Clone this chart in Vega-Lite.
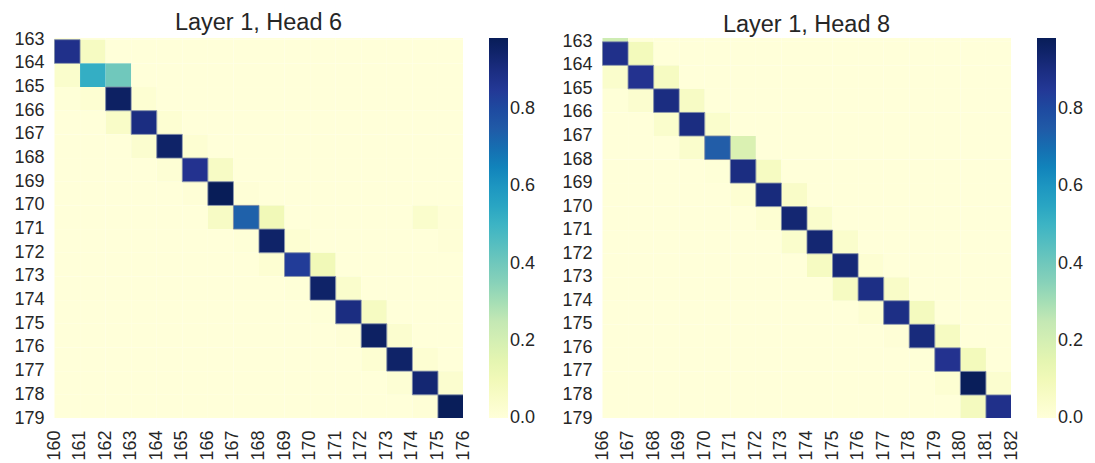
{
  "$schema": "https://vega.github.io/schema/vega-lite/v6.json",
  "background": "white",
  "padding": {"left": 13, "top": 10, "right": 0, "bottom": 0},
  "spacing": 25,
  "config": {
    "font": "Liberation Sans",
    "view": {"stroke": null},
    "axis": {"ticks": false, "domain": false, "grid": false, "labelFontSize": 18, "labelColor": "#262626", "labelFont": "Liberation Sans"},
    "title": {"fontSize": 23.5, "fontWeight": "normal", "color": "#262626", "offset": -4, "font": "Liberation Sans"},
    "legend": {"gradientLength": 380, "gradientThickness": 19, "offset": 26, "padding": 0, "labelFontSize": 18, "labelColor": "#262626", "labelOffset": 11, "gradientStrokeWidth": 0, "labelFont": "Liberation Sans"}
  },
  "datasets": {
    "h6": [
      {"x":160,"y":162,"v":0},{"x":161,"y":162,"v":0},{"x":162,"y":162,"v":0},{"x":163,"y":162,"v":0},{"x":164,"y":162,"v":0},{"x":165,"y":162,"v":0},{"x":166,"y":162,"v":0},{"x":167,"y":162,"v":0},{"x":168,"y":162,"v":0},{"x":169,"y":162,"v":0},{"x":170,"y":162,"v":0},{"x":171,"y":162,"v":0},{"x":172,"y":162,"v":0},{"x":173,"y":162,"v":0},{"x":174,"y":162,"v":0},{"x":175,"y":162,"v":0},
      {"x":160,"y":163,"v":0.88},{"x":161,"y":163,"v":0.07},{"x":162,"y":163,"v":0},{"x":163,"y":163,"v":0},{"x":164,"y":163,"v":0},{"x":165,"y":163,"v":0},{"x":166,"y":163,"v":0},{"x":167,"y":163,"v":0},{"x":168,"y":163,"v":0},{"x":169,"y":163,"v":0},{"x":170,"y":163,"v":0},{"x":171,"y":163,"v":0},{"x":172,"y":163,"v":0},{"x":173,"y":163,"v":0},{"x":174,"y":163,"v":0},{"x":175,"y":163,"v":0},
      {"x":160,"y":164,"v":0.04},{"x":161,"y":164,"v":0.52},{"x":162,"y":164,"v":0.40},{"x":163,"y":164,"v":0},{"x":164,"y":164,"v":0},{"x":165,"y":164,"v":0},{"x":166,"y":164,"v":0},{"x":167,"y":164,"v":0},{"x":168,"y":164,"v":0},{"x":169,"y":164,"v":0},{"x":170,"y":164,"v":0},{"x":171,"y":164,"v":0},{"x":172,"y":164,"v":0},{"x":173,"y":164,"v":0},{"x":174,"y":164,"v":0},{"x":175,"y":164,"v":0},
      {"x":160,"y":165,"v":0.005},{"x":161,"y":165,"v":0.02},{"x":162,"y":165,"v":0.96},{"x":163,"y":165,"v":0.02},{"x":164,"y":165,"v":0},{"x":165,"y":165,"v":0},{"x":166,"y":165,"v":0},{"x":167,"y":165,"v":0},{"x":168,"y":165,"v":0},{"x":169,"y":165,"v":0},{"x":170,"y":165,"v":0},{"x":171,"y":165,"v":0},{"x":172,"y":165,"v":0},{"x":173,"y":165,"v":0},{"x":174,"y":165,"v":0},{"x":175,"y":165,"v":0},
      {"x":160,"y":166,"v":0},{"x":161,"y":166,"v":0},{"x":162,"y":166,"v":0.05},{"x":163,"y":166,"v":0.90},{"x":164,"y":166,"v":0.02},{"x":165,"y":166,"v":0},{"x":166,"y":166,"v":0},{"x":167,"y":166,"v":0},{"x":168,"y":166,"v":0},{"x":169,"y":166,"v":0},{"x":170,"y":166,"v":0},{"x":171,"y":166,"v":0},{"x":172,"y":166,"v":0},{"x":173,"y":166,"v":0},{"x":174,"y":166,"v":0},{"x":175,"y":166,"v":0},
      {"x":160,"y":167,"v":0},{"x":161,"y":167,"v":0},{"x":162,"y":167,"v":0},{"x":163,"y":167,"v":0.03},{"x":164,"y":167,"v":0.95},{"x":165,"y":167,"v":0.02},{"x":166,"y":167,"v":0},{"x":167,"y":167,"v":0},{"x":168,"y":167,"v":0},{"x":169,"y":167,"v":0},{"x":170,"y":167,"v":0},{"x":171,"y":167,"v":0},{"x":172,"y":167,"v":0},{"x":173,"y":167,"v":0},{"x":174,"y":167,"v":0},{"x":175,"y":167,"v":0},
      {"x":160,"y":168,"v":0},{"x":161,"y":168,"v":0},{"x":162,"y":168,"v":0},{"x":163,"y":168,"v":0},{"x":164,"y":168,"v":0.015},{"x":165,"y":168,"v":0.87},{"x":166,"y":168,"v":0.06},{"x":167,"y":168,"v":0},{"x":168,"y":168,"v":0},{"x":169,"y":168,"v":0},{"x":170,"y":168,"v":0},{"x":171,"y":168,"v":0},{"x":172,"y":168,"v":0},{"x":173,"y":168,"v":0},{"x":174,"y":168,"v":0},{"x":175,"y":168,"v":0},
      {"x":160,"y":169,"v":0},{"x":161,"y":169,"v":0},{"x":162,"y":169,"v":0},{"x":163,"y":169,"v":0},{"x":164,"y":169,"v":0},{"x":165,"y":169,"v":0.01},{"x":166,"y":169,"v":0.984},{"x":167,"y":169,"v":0.01},{"x":168,"y":169,"v":0},{"x":169,"y":169,"v":0},{"x":170,"y":169,"v":0},{"x":171,"y":169,"v":0},{"x":172,"y":169,"v":0},{"x":173,"y":169,"v":0},{"x":174,"y":169,"v":0},{"x":175,"y":169,"v":0},
      {"x":160,"y":170,"v":0},{"x":161,"y":170,"v":0},{"x":162,"y":170,"v":0},{"x":163,"y":170,"v":0},{"x":164,"y":170,"v":0},{"x":165,"y":170,"v":0},{"x":166,"y":170,"v":0.06},{"x":167,"y":170,"v":0.73},{"x":168,"y":170,"v":0.10},{"x":169,"y":170,"v":0},{"x":170,"y":170,"v":0},{"x":171,"y":170,"v":0},{"x":172,"y":170,"v":0},{"x":173,"y":170,"v":0},{"x":174,"y":170,"v":0.04},{"x":175,"y":170,"v":0.01},
      {"x":160,"y":171,"v":0},{"x":161,"y":171,"v":0},{"x":162,"y":171,"v":0},{"x":163,"y":171,"v":0},{"x":164,"y":171,"v":0},{"x":165,"y":171,"v":0},{"x":166,"y":171,"v":0},{"x":167,"y":171,"v":0.005},{"x":168,"y":171,"v":0.95},{"x":169,"y":171,"v":0.02},{"x":170,"y":171,"v":0},{"x":171,"y":171,"v":0},{"x":172,"y":171,"v":0},{"x":173,"y":171,"v":0},{"x":174,"y":171,"v":0},{"x":175,"y":171,"v":0.01},
      {"x":160,"y":172,"v":0},{"x":161,"y":172,"v":0},{"x":162,"y":172,"v":0},{"x":163,"y":172,"v":0},{"x":164,"y":172,"v":0},{"x":165,"y":172,"v":0},{"x":166,"y":172,"v":0},{"x":167,"y":172,"v":0},{"x":168,"y":172,"v":0.02},{"x":169,"y":172,"v":0.84},{"x":170,"y":172,"v":0.10},{"x":171,"y":172,"v":0},{"x":172,"y":172,"v":0},{"x":173,"y":172,"v":0},{"x":174,"y":172,"v":0},{"x":175,"y":172,"v":0},
      {"x":160,"y":173,"v":0},{"x":161,"y":173,"v":0},{"x":162,"y":173,"v":0},{"x":163,"y":173,"v":0},{"x":164,"y":173,"v":0},{"x":165,"y":173,"v":0},{"x":166,"y":173,"v":0},{"x":167,"y":173,"v":0},{"x":168,"y":173,"v":0},{"x":169,"y":173,"v":0.005},{"x":170,"y":173,"v":0.95},{"x":171,"y":173,"v":0.04},{"x":172,"y":173,"v":0},{"x":173,"y":173,"v":0},{"x":174,"y":173,"v":0},{"x":175,"y":173,"v":0},
      {"x":160,"y":174,"v":0},{"x":161,"y":174,"v":0},{"x":162,"y":174,"v":0},{"x":163,"y":174,"v":0},{"x":164,"y":174,"v":0},{"x":165,"y":174,"v":0},{"x":166,"y":174,"v":0},{"x":167,"y":174,"v":0},{"x":168,"y":174,"v":0},{"x":169,"y":174,"v":0},{"x":170,"y":174,"v":0.005},{"x":171,"y":174,"v":0.90},{"x":172,"y":174,"v":0.07},{"x":173,"y":174,"v":0},{"x":174,"y":174,"v":0},{"x":175,"y":174,"v":0},
      {"x":160,"y":175,"v":0},{"x":161,"y":175,"v":0},{"x":162,"y":175,"v":0},{"x":163,"y":175,"v":0},{"x":164,"y":175,"v":0},{"x":165,"y":175,"v":0},{"x":166,"y":175,"v":0},{"x":167,"y":175,"v":0},{"x":168,"y":175,"v":0},{"x":169,"y":175,"v":0},{"x":170,"y":175,"v":0},{"x":171,"y":175,"v":0.01},{"x":172,"y":175,"v":0.96},{"x":173,"y":175,"v":0.03},{"x":174,"y":175,"v":0},{"x":175,"y":175,"v":0},
      {"x":160,"y":176,"v":0},{"x":161,"y":176,"v":0},{"x":162,"y":176,"v":0},{"x":163,"y":176,"v":0},{"x":164,"y":176,"v":0},{"x":165,"y":176,"v":0},{"x":166,"y":176,"v":0},{"x":167,"y":176,"v":0},{"x":168,"y":176,"v":0},{"x":169,"y":176,"v":0},{"x":170,"y":176,"v":0},{"x":171,"y":176,"v":0},{"x":172,"y":176,"v":0.02},{"x":173,"y":176,"v":0.95},{"x":174,"y":176,"v":0.02},{"x":175,"y":176,"v":0},
      {"x":160,"y":177,"v":0},{"x":161,"y":177,"v":0},{"x":162,"y":177,"v":0},{"x":163,"y":177,"v":0},{"x":164,"y":177,"v":0},{"x":165,"y":177,"v":0},{"x":166,"y":177,"v":0},{"x":167,"y":177,"v":0},{"x":168,"y":177,"v":0},{"x":169,"y":177,"v":0},{"x":170,"y":177,"v":0},{"x":171,"y":177,"v":0},{"x":172,"y":177,"v":0},{"x":173,"y":177,"v":0.015},{"x":174,"y":177,"v":0.93},{"x":175,"y":177,"v":0.03},
      {"x":160,"y":178,"v":0},{"x":161,"y":178,"v":0},{"x":162,"y":178,"v":0},{"x":163,"y":178,"v":0},{"x":164,"y":178,"v":0},{"x":165,"y":178,"v":0},{"x":166,"y":178,"v":0},{"x":167,"y":178,"v":0},{"x":168,"y":178,"v":0},{"x":169,"y":178,"v":0},{"x":170,"y":178,"v":0},{"x":171,"y":178,"v":0},{"x":172,"y":178,"v":0},{"x":173,"y":178,"v":0},{"x":174,"y":178,"v":0.01},{"x":175,"y":178,"v":0.98}
    ],
    "h8": [
      {"x":166,"y":162,"v":0.22},{"x":167,"y":162,"v":0},{"x":168,"y":162,"v":0},{"x":169,"y":162,"v":0},{"x":170,"y":162,"v":0},{"x":171,"y":162,"v":0},{"x":172,"y":162,"v":0},{"x":173,"y":162,"v":0},{"x":174,"y":162,"v":0},{"x":175,"y":162,"v":0},{"x":176,"y":162,"v":0},{"x":177,"y":162,"v":0},{"x":178,"y":162,"v":0},{"x":179,"y":162,"v":0},{"x":180,"y":162,"v":0},{"x":181,"y":162,"v":0},
      {"x":166,"y":163,"v":0.88},{"x":167,"y":163,"v":0.09},{"x":168,"y":163,"v":0},{"x":169,"y":163,"v":0},{"x":170,"y":163,"v":0},{"x":171,"y":163,"v":0},{"x":172,"y":163,"v":0},{"x":173,"y":163,"v":0},{"x":174,"y":163,"v":0},{"x":175,"y":163,"v":0},{"x":176,"y":163,"v":0},{"x":177,"y":163,"v":0},{"x":178,"y":163,"v":0},{"x":179,"y":163,"v":0},{"x":180,"y":163,"v":0},{"x":181,"y":163,"v":0},
      {"x":166,"y":164,"v":0.04},{"x":167,"y":164,"v":0.87},{"x":168,"y":164,"v":0.07},{"x":169,"y":164,"v":0},{"x":170,"y":164,"v":0},{"x":171,"y":164,"v":0},{"x":172,"y":164,"v":0},{"x":173,"y":164,"v":0},{"x":174,"y":164,"v":0},{"x":175,"y":164,"v":0},{"x":176,"y":164,"v":0},{"x":177,"y":164,"v":0},{"x":178,"y":164,"v":0},{"x":179,"y":164,"v":0},{"x":180,"y":164,"v":0},{"x":181,"y":164,"v":0},
      {"x":166,"y":165,"v":0.005},{"x":167,"y":165,"v":0.03},{"x":168,"y":165,"v":0.90},{"x":169,"y":165,"v":0.06},{"x":170,"y":165,"v":0},{"x":171,"y":165,"v":0},{"x":172,"y":165,"v":0},{"x":173,"y":165,"v":0},{"x":174,"y":165,"v":0},{"x":175,"y":165,"v":0},{"x":176,"y":165,"v":0},{"x":177,"y":165,"v":0},{"x":178,"y":165,"v":0},{"x":179,"y":165,"v":0},{"x":180,"y":165,"v":0},{"x":181,"y":165,"v":0},
      {"x":166,"y":166,"v":0},{"x":167,"y":166,"v":0},{"x":168,"y":166,"v":0.04},{"x":169,"y":166,"v":0.90},{"x":170,"y":166,"v":0.04},{"x":171,"y":166,"v":0},{"x":172,"y":166,"v":0},{"x":173,"y":166,"v":0},{"x":174,"y":166,"v":0},{"x":175,"y":166,"v":0},{"x":176,"y":166,"v":0},{"x":177,"y":166,"v":0},{"x":178,"y":166,"v":0},{"x":179,"y":166,"v":0},{"x":180,"y":166,"v":0},{"x":181,"y":166,"v":0},
      {"x":166,"y":167,"v":0},{"x":167,"y":167,"v":0},{"x":168,"y":167,"v":0},{"x":169,"y":167,"v":0.04},{"x":170,"y":167,"v":0.74},{"x":171,"y":167,"v":0.18},{"x":172,"y":167,"v":0},{"x":173,"y":167,"v":0},{"x":174,"y":167,"v":0},{"x":175,"y":167,"v":0},{"x":176,"y":167,"v":0},{"x":177,"y":167,"v":0},{"x":178,"y":167,"v":0},{"x":179,"y":167,"v":0},{"x":180,"y":167,"v":0},{"x":181,"y":167,"v":0},
      {"x":166,"y":168,"v":0},{"x":167,"y":168,"v":0},{"x":168,"y":168,"v":0},{"x":169,"y":168,"v":0},{"x":170,"y":168,"v":0.005},{"x":171,"y":168,"v":0.90},{"x":172,"y":168,"v":0.07},{"x":173,"y":168,"v":0},{"x":174,"y":168,"v":0},{"x":175,"y":168,"v":0},{"x":176,"y":168,"v":0},{"x":177,"y":168,"v":0},{"x":178,"y":168,"v":0},{"x":179,"y":168,"v":0},{"x":180,"y":168,"v":0},{"x":181,"y":168,"v":0},
      {"x":166,"y":169,"v":0},{"x":167,"y":169,"v":0},{"x":168,"y":169,"v":0},{"x":169,"y":169,"v":0},{"x":170,"y":169,"v":0},{"x":171,"y":169,"v":0.02},{"x":172,"y":169,"v":0.91},{"x":173,"y":169,"v":0.05},{"x":174,"y":169,"v":0},{"x":175,"y":169,"v":0},{"x":176,"y":169,"v":0},{"x":177,"y":169,"v":0},{"x":178,"y":169,"v":0},{"x":179,"y":169,"v":0},{"x":180,"y":169,"v":0},{"x":181,"y":169,"v":0},
      {"x":166,"y":170,"v":0},{"x":167,"y":170,"v":0},{"x":168,"y":170,"v":0},{"x":169,"y":170,"v":0},{"x":170,"y":170,"v":0},{"x":171,"y":170,"v":0},{"x":172,"y":170,"v":0.02},{"x":173,"y":170,"v":0.93},{"x":174,"y":170,"v":0.04},{"x":175,"y":170,"v":0},{"x":176,"y":170,"v":0},{"x":177,"y":170,"v":0},{"x":178,"y":170,"v":0},{"x":179,"y":170,"v":0},{"x":180,"y":170,"v":0},{"x":181,"y":170,"v":0},
      {"x":166,"y":171,"v":0},{"x":167,"y":171,"v":0},{"x":168,"y":171,"v":0},{"x":169,"y":171,"v":0},{"x":170,"y":171,"v":0},{"x":171,"y":171,"v":0},{"x":172,"y":171,"v":0},{"x":173,"y":171,"v":0.04},{"x":174,"y":171,"v":0.93},{"x":175,"y":171,"v":0.04},{"x":176,"y":171,"v":0},{"x":177,"y":171,"v":0},{"x":178,"y":171,"v":0},{"x":179,"y":171,"v":0},{"x":180,"y":171,"v":0},{"x":181,"y":171,"v":0},
      {"x":166,"y":172,"v":0},{"x":167,"y":172,"v":0},{"x":168,"y":172,"v":0},{"x":169,"y":172,"v":0},{"x":170,"y":172,"v":0},{"x":171,"y":172,"v":0},{"x":172,"y":172,"v":0},{"x":173,"y":172,"v":0},{"x":174,"y":172,"v":0.07},{"x":175,"y":172,"v":0.92},{"x":176,"y":172,"v":0.02},{"x":177,"y":172,"v":0},{"x":178,"y":172,"v":0},{"x":179,"y":172,"v":0},{"x":180,"y":172,"v":0},{"x":181,"y":172,"v":0},
      {"x":166,"y":173,"v":0},{"x":167,"y":173,"v":0},{"x":168,"y":173,"v":0},{"x":169,"y":173,"v":0},{"x":170,"y":173,"v":0},{"x":171,"y":173,"v":0},{"x":172,"y":173,"v":0},{"x":173,"y":173,"v":0},{"x":174,"y":173,"v":0},{"x":175,"y":173,"v":0.07},{"x":176,"y":173,"v":0.89},{"x":177,"y":173,"v":0.05},{"x":178,"y":173,"v":0},{"x":179,"y":173,"v":0},{"x":180,"y":173,"v":0},{"x":181,"y":173,"v":0},
      {"x":166,"y":174,"v":0},{"x":167,"y":174,"v":0},{"x":168,"y":174,"v":0},{"x":169,"y":174,"v":0},{"x":170,"y":174,"v":0},{"x":171,"y":174,"v":0},{"x":172,"y":174,"v":0},{"x":173,"y":174,"v":0},{"x":174,"y":174,"v":0},{"x":175,"y":174,"v":0},{"x":176,"y":174,"v":0.02},{"x":177,"y":174,"v":0.89},{"x":178,"y":174,"v":0.08},{"x":179,"y":174,"v":0},{"x":180,"y":174,"v":0},{"x":181,"y":174,"v":0},
      {"x":166,"y":175,"v":0},{"x":167,"y":175,"v":0},{"x":168,"y":175,"v":0},{"x":169,"y":175,"v":0},{"x":170,"y":175,"v":0},{"x":171,"y":175,"v":0},{"x":172,"y":175,"v":0},{"x":173,"y":175,"v":0},{"x":174,"y":175,"v":0},{"x":175,"y":175,"v":0},{"x":176,"y":175,"v":0},{"x":177,"y":175,"v":0.01},{"x":178,"y":175,"v":0.91},{"x":179,"y":175,"v":0.07},{"x":180,"y":175,"v":0},{"x":181,"y":175,"v":0},
      {"x":166,"y":176,"v":0},{"x":167,"y":176,"v":0},{"x":168,"y":176,"v":0},{"x":169,"y":176,"v":0},{"x":170,"y":176,"v":0},{"x":171,"y":176,"v":0},{"x":172,"y":176,"v":0},{"x":173,"y":176,"v":0},{"x":174,"y":176,"v":0},{"x":175,"y":176,"v":0},{"x":176,"y":176,"v":0},{"x":177,"y":176,"v":0},{"x":178,"y":176,"v":0.005},{"x":179,"y":176,"v":0.87},{"x":180,"y":176,"v":0.09},{"x":181,"y":176,"v":0},
      {"x":166,"y":177,"v":0},{"x":167,"y":177,"v":0},{"x":168,"y":177,"v":0},{"x":169,"y":177,"v":0},{"x":170,"y":177,"v":0},{"x":171,"y":177,"v":0},{"x":172,"y":177,"v":0},{"x":173,"y":177,"v":0},{"x":174,"y":177,"v":0},{"x":175,"y":177,"v":0},{"x":176,"y":177,"v":0},{"x":177,"y":177,"v":0},{"x":178,"y":177,"v":0},{"x":179,"y":177,"v":0.02},{"x":180,"y":177,"v":0.98},{"x":181,"y":177,"v":0.03},
      {"x":166,"y":178,"v":0},{"x":167,"y":178,"v":0},{"x":168,"y":178,"v":0},{"x":169,"y":178,"v":0},{"x":170,"y":178,"v":0},{"x":171,"y":178,"v":0},{"x":172,"y":178,"v":0},{"x":173,"y":178,"v":0},{"x":174,"y":178,"v":0},{"x":175,"y":178,"v":0},{"x":176,"y":178,"v":0},{"x":177,"y":178,"v":0},{"x":178,"y":178,"v":0},{"x":179,"y":178,"v":0},{"x":180,"y":178,"v":0.08},{"x":181,"y":178,"v":0.88}
    ]
  },
  "hconcat": [
    {
      "title": "Layer 1, Head 6",
      "width": 409,
      "height": 380,
      "data": {"name": "h6"},
      "encoding": {
        "x": {"field": "x", "type": "quantitative", "bin": {"binned": true, "step": 1}, "title": null,
              "scale": {"domain": [160, 176], "nice": false, "zero": false},
              "axis": {"values": [160,161,162,163,164,165,166,167,168,169,170,171,172,173,174,175,176], "labelAngle": -90, "labelPadding": 12, "format": "d", "labelFlush": false, "labelOverlap": false}},
        "y": {"field": "y", "type": "quantitative", "bin": {"binned": true, "step": 1}, "title": null,
              "scale": {"domain": [162.95, 179], "reverse": true, "nice": false, "zero": false},
              "axis": {"values": [163,164,165,166,167,168,169,170,171,172,173,174,175,176,177,178,179], "labelPadding": 10, "format": "d", "labelFlush": false, "labelOverlap": false}}
      },
      "layer": [
        {
          "mark": {"type": "rect", "clip": true},
          "encoding": {
            "color": {"field": "v", "type": "quantitative",
                      "scale": {"domain": [0, 0.984], "range": ["#ffffd9","#edf8b1","#c7e9b4","#7fcdbb","#41b6c4","#1d91c0","#225ea8","#253494","#081d58"]},
                      "legend": {"title": null, "values": [0, 0.2, 0.4, 0.6, 0.8], "format": ".1f",
                                 "encode": {"labels": {"update": {"baseline": {"value": "middle"}}}}}}
          }
        },
        {
          "transform": [{"filter": "datum.v > 0.6"}],
          "mark": {"type": "rect", "clip": true, "fill": null, "filled": false, "stroke": "#7d8aa3", "strokeWidth": 1, "strokeOpacity": 0.85},
          "encoding": {}
        }
      ]
    },
    {
      "title": "Layer 1, Head 8",
      "width": 409,
      "height": 380,
      "data": {"name": "h8"},
      "encoding": {
        "x": {"field": "x", "type": "quantitative", "bin": {"binned": true, "step": 1}, "title": null,
              "scale": {"domain": [166, 182], "nice": false, "zero": false},
              "axis": {"values": [166,167,168,169,170,171,172,173,174,175,176,177,178,179,180,181,182], "labelAngle": -90, "labelPadding": 12, "format": "d", "labelFlush": false, "labelOverlap": false}},
        "y": {"field": "y", "type": "quantitative", "bin": {"binned": true, "step": 1}, "title": null,
              "scale": {"domain": [162.86, 179], "reverse": true, "nice": false, "zero": false},
              "axis": {"values": [163,164,165,166,167,168,169,170,171,172,173,174,175,176,177,178,179], "labelPadding": 10, "format": "d", "labelFlush": false, "labelOverlap": false}}
      },
      "layer": [
        {
          "mark": {"type": "rect", "clip": true},
          "encoding": {
            "color": {"field": "v", "type": "quantitative",
                      "scale": {"domain": [0, 0.984], "range": ["#ffffd9","#edf8b1","#c7e9b4","#7fcdbb","#41b6c4","#1d91c0","#225ea8","#253494","#081d58"]},
                      "legend": {"title": null, "values": [0, 0.2, 0.4, 0.6, 0.8], "format": ".1f",
                                 "encode": {"labels": {"update": {"baseline": {"value": "middle"}}}}}}
          }
        },
        {
          "transform": [{"filter": "datum.v > 0.6"}],
          "mark": {"type": "rect", "clip": true, "fill": null, "filled": false, "stroke": "#7d8aa3", "strokeWidth": 1, "strokeOpacity": 0.85},
          "encoding": {}
        }
      ]
    }
  ],
  "resolve": {"scale": {"color": "independent"}, "legend": {"color": "independent"}}
}
